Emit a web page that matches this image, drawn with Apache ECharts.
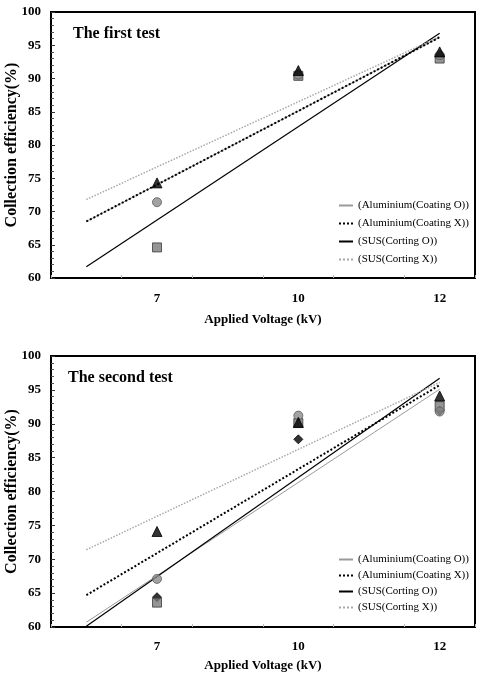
<!DOCTYPE html>
<html lang="en">
<head>
    <meta charset="utf-8">
    <title>Collection efficiency</title>
    <style>
        html, body { margin: 0; padding: 0; background: #fff; }
    </style>
</head>
<body>
    <div id="main" style="width:488px;height:684px;"></div>
    <script src="https://cdn.jsdelivr.net/npm/echarts@6/dist/echarts.min.js"></script>
    <script type="text/javascript">
        // x positions: 1 = 7 kV, 2 = 10 kV, 3 = 12 kV
        var voltages = ['7', '10', '12'];
        var seriesNames = ['(Aluminium(Coating O))', '(Aluminium(Coating X))', '(SUS(Corting O))', '(SUS(Corting X))'];
        var panelTitles = ['The first test', 'The second test'];
        var yTicks = [60, 100, 5];

        // measured points (first test)
        var alO1 = [];
        var alX1 = [71.4, 90.6, 93.5];
        var susO1 = [64.6, 90.4, 93.0];
        var susX1 = [74.3, 91.2, 94.0];
        // measured points (second test)
        var alO2 = [64.4, 87.7, 91.9];
        var alX2 = [67.1, 91.2, 91.8];
        var susO2 = [63.6, 90.1, 92.6];
        var susX2 = [74.1, 90.2, 94.1];

        // trend lines, value at start / end of line
        var trendX = [0.5, 3];
        var trendAlO1 = [68.5, 96.2];
        var trendAlX1 = [68.5, 96.2];
        var trendSusO1 = [61.7, 96.8];
        var trendSusX1 = [71.8, 96.3];
        var trendAlO2 = [60.7, 95.1];
        var trendAlX2 = [64.7, 95.7];
        var trendSusO2 = [60.1, 96.7];
        var trendSusX2 = [71.4, 96.1];

        var FONT = 'Liberation Serif';
        var myChart = echarts.init(document.getElementById('main'));

        var grids = [
            { left: 51, top: 12, width: 424, height: 266 },
            { left: 51, top: 356, width: 424, height: 271 }
        ];

        var lineStyles = [
            { color: '#9a9a9a', width: 1, type: 'solid' },
            { color: '#000', width: 2, type: 'dotted' },
            { color: '#000', width: 1.2, type: 'solid' },
            { color: '#a8a8a8', width: 1.5, type: 'dotted' }
        ];
        var markStyles = [
            { symbol: 'diamond', size: 9, color: '#000', border: '#000' },
            { symbol: 'circle', size: 9, color: '#8c8c8c', border: '#5a5a5a' },
            { symbol: 'rect', size: 9, color: '#7a7a7a', border: '#3a3a3a' },
            { symbol: 'triangle', size: 10, color: '#000', border: '#000' }
        ];

        var points = [[alO1, alX1, susO1, susX1], [alO2, alX2, susO2, susX2]];
        var trends = [[trendAlO1, trendAlX1, trendSusO1, trendSusX1], [trendAlO2, trendAlX2, trendSusO2, trendSusX2]];
        var markOrder = [0, 2, 1, 3]; // diamonds at the back, triangles on top

        var xAxis = [], yAxis = [], series = [], titles = [], legends = [];

        grids.forEach(function (g, gi) {
            // axis with the little ticks
            xAxis.push({
                type: 'value', gridIndex: gi, position: 'bottom', min: 0.25, max: 3.25, interval: 0.5,
                axisLine: { show: true, lineStyle: { color: '#000', width: 2 } },
                axisTick: { show: true, inside: true, length: 3, lineStyle: { color: '#bbb' } },
                axisLabel: { show: false },
                splitLine: { show: false }
            });
            // axis carrying the voltage labels
            xAxis.push({
                type: 'value', gridIndex: gi, position: 'bottom', min: 0.25, max: 3.25, interval: 0.25,
                name: 'Applied Voltage (kV)', nameLocation: 'middle', nameGap: gi == 0 ? 35 : 32,
                nameMoveOverlap: false,
                nameTextStyle: { fontFamily: FONT, fontWeight: 'bold', fontSize: 13, color: '#000' },
                axisLine: { show: false },
                axisTick: { show: false },
                splitLine: { show: false },
                axisLabel: {
                    margin: gi == 0 ? 14 : 13,
                    fontFamily: FONT, fontWeight: 'bold', fontSize: 13, color: '#000',
                    formatter: function (v) {
                        return Number.isInteger(v) && v >= 1 && v <= 3 ? voltages[v - 1] : '';
                    }
                }
            });
            yAxis.push({
                type: 'value', gridIndex: gi, min: yTicks[0], max: yTicks[1], interval: yTicks[2],
                name: 'Collection efficiency(%)', nameLocation: 'middle', nameGap: 31,
                nameMoveOverlap: false,
                nameTextStyle: { fontFamily: FONT, fontWeight: 'bold', fontSize: 16, color: '#000' },
                axisLine: { show: true, lineStyle: { color: '#000', width: 2 } },
                axisTick: { show: true, inside: true, length: 4, lineStyle: { color: '#333' } },
                minorTick: { show: true, splitNumber: 5, length: 3, lineStyle: { color: '#555' } },
                axisLabel: { margin: 10, fontFamily: FONT, fontWeight: 'bold', fontSize: 13, color: '#000' },
                splitLine: { show: false }
            });
            titles.push({
                text: panelTitles[gi],
                left: gi == 0 ? 73 : 68, top: gi == 0 ? 26 : 370,
                padding: 0,
                textStyle: { fontFamily: FONT, fontWeight: 'bold', fontSize: 16, color: '#000' }
            });
            legends.push({
                data: seriesNames, orient: 'vertical',
                left: 333, top: gi == 0 ? 195 : 549,
                itemWidth: 14, itemHeight: 10, itemGap: gi == 0 ? 7 : 5,
                selectedMode: false,
                itemStyle: { opacity: 0 },
                textStyle: { fontFamily: FONT, fontSize: 11, color: '#000' }
            });

            seriesNames.forEach(function (name, si) {
                var tr = trends[gi][si];
                series.push({
                    name: name, type: 'line',
                    xAxisIndex: gi * 2, yAxisIndex: gi,
                    data: trendX.map(function (x, k) { return [x, tr[k]]; }),
                    symbol: 'none', silent: true, z: 2 + (si == 1 ? 1 : 0),
                    itemStyle: { color: lineStyles[si].color },
                    lineStyle: lineStyles[si]
                });
            });
            markOrder.forEach(function (si, k) {
                var m = markStyles[si];
                series.push({
                    name: 'pts' + gi + '_' + si, type: 'scatter',
                    xAxisIndex: gi * 2, yAxisIndex: gi,
                    data: points[gi][si].map(function (v, i) { return [i + 1, v]; }),
                    symbol: m.symbol, symbolSize: m.size,
                    itemStyle: { color: m.color, borderColor: m.border, borderWidth: 1 },
                    z: 5 + k
                });
            });
        });

        var option = {
            animation: false,
            backgroundColor: '#fff',
            title: titles,
            legend: legends,
            grid: grids.map(function (g) {
                return Object.assign({ show: true, borderColor: '#000', borderWidth: 2, containLabel: false, outerBoundsMode: 'none' }, g);
            }),
            xAxis: xAxis,
            yAxis: yAxis,
            series: series
        };
        myChart.setOption(option);
    </script>
</body>
</html>
